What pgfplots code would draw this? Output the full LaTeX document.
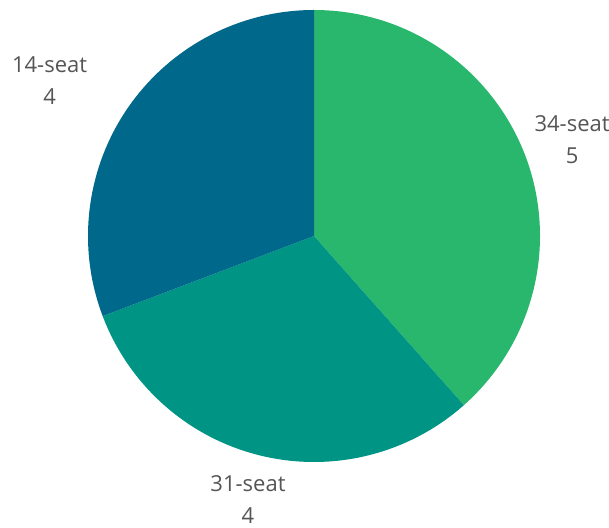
\documentclass[border=0pt]{standalone}
\usepackage{fontspec}
\setmainfont{Open Sans}
\usepackage{pgfplots}
\usepackage{pgfplotstable}
\pgfplotsset{compat=1.18}
\definecolor{cA}{RGB}{41,183,110}
\definecolor{cB}{RGB}{0,148,133}
\definecolor{cC}{RGB}{0,104,138}
\definecolor{txt}{RGB}{85,85,85}
\pgfplotstableread{
label value
34-seat 5
31-seat 4
14-seat 4
}\seatdata
\begin{document}%
\begin{tikzpicture}
\pgfplotstablegetelem{0}{value}\of\seatdata \let\va\pgfplotsretval
\pgfplotstablegetelem{1}{value}\of\seatdata \let\vb\pgfplotsretval
\pgfplotstablegetelem{2}{value}\of\seatdata \let\vc\pgfplotsretval
\pgfmathsetmacro{\tot}{\va+\vb+\vc}
\pgfmathsetmacro{\aa}{90}
\pgfmathsetmacro{\ab}{\aa-360*\va/\tot}
\pgfmathsetmacro{\ac}{\ab-360*\vb/\tot}
\pgfmathsetmacro{\ad}{\ac-360*\vc/\tot}
\useasboundingbox (0,0) rectangle (609pt,527pt);
\begin{axis}[
  at={(314pt,291pt)}, anchor=center,
  scale only axis, width=452pt, height=452pt,
  xmin=-1, xmax=1, ymin=-1, ymax=1,
  hide axis, clip=false,
]
\addplot[draw=none] coordinates {(0,0)};
\fill[cA] (axis cs:0,0) -- (axis cs:{cos(\aa)},{sin(\aa)}) arc[start angle=\aa, end angle=\ab, radius=226pt] -- cycle;
\fill[cB] (axis cs:0,0) -- (axis cs:{cos(\ab)},{sin(\ab)}) arc[start angle=\ab, end angle=\ac, radius=226pt] -- cycle;
\fill[cC] (axis cs:0,0) -- (axis cs:{cos(\ac)},{sin(\ac)}) arc[start angle=\ac, end angle=\ad, radius=226pt] -- cycle;
\node[txt, align=center, font=\fontsize{22}{32}\selectfont] at (axis cs:1.142,0.425) {34-seat\\\va};
\node[txt, align=center, font=\fontsize{22}{32}\selectfont] at (axis cs:-0.292,-1.168) {31-seat\\\vb};
\node[txt, align=center, font=\fontsize{22}{32}\selectfont] at (axis cs:-1.170,0.686) {14-seat\\\vc};
\end{axis}
\end{tikzpicture}%
\end{document}
